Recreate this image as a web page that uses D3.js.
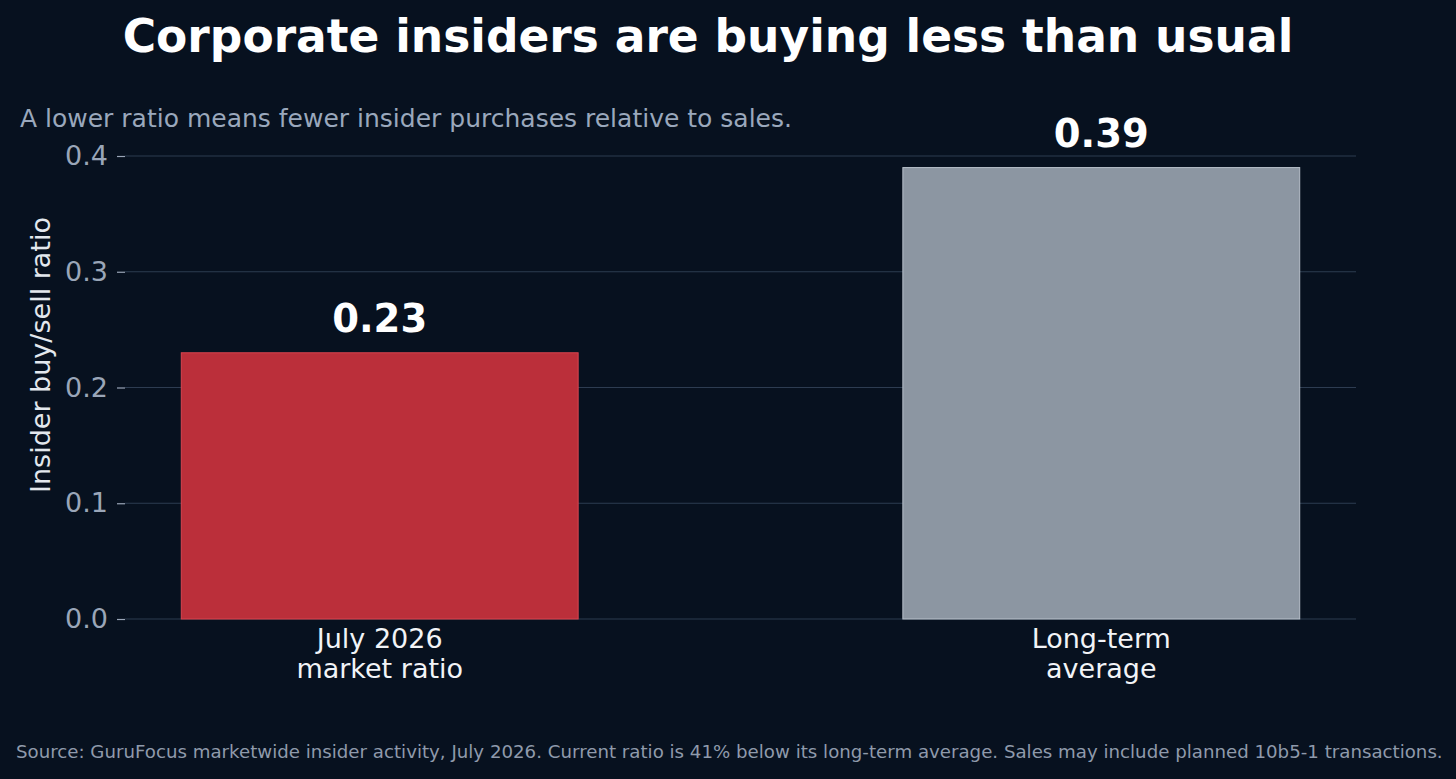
<!DOCTYPE html>
<html>
<head>
<meta charset="utf-8">
<script src="https://cdn.jsdelivr.net/npm/d3@7"></script>
<style>
  html, body { margin: 0; padding: 0; background: #07111f; }
  svg { display: block; font-family: "DejaVu Sans", sans-serif; }
</style>
</head>
<body>
<script>
let W = 1456;
let H = 779;

// data
let categories = [["July 2026", "market ratio"], ["Long-term", "average"]];
let ratios = [0.23, 0.39];
let barColors = ["#bb2f3a", "#8c96a2"];
let edgeColors = ["#d9444f", "#b9c1cb"];
let yTicks = [0.0, 0.1, 0.2, 0.3, 0.4];

let pad = { top: 156, rig: 100, bot: 160, lef: 125 };

let svg = d3.select("body")
  .append("svg")
  .attr("width", W)
  .attr("height", H)
  .attr("viewBox", "0 0 " + W + " " + H);

svg.append("rect")
  .attr("width", W)
  .attr("height", H)
  .attr("fill", "#07111f");

let xScale = d3.scaleBand()
  .domain(d3.range(categories.length))
  .range([pad.lef, W - pad.rig])
  .paddingInner(0.45)
  .paddingOuter(0.078);

let yScale = d3.scaleLinear()
  .domain([0, 0.4])
  .range([H - pad.bot, pad.top]);

// grid lines
svg.append("g")
  .selectAll("line")
  .data(yTicks)
  .enter()
  .append("line")
  .attr("x1", pad.lef)
  .attr("x2", W - pad.rig)
  .attr("y1", d => yScale(d))
  .attr("y2", d => yScale(d))
  .attr("stroke", "#2d3c51")
  .attr("stroke-width", 1);

// y axis
let yAxis = svg.append("g")
  .attr("transform", "translate(" + pad.lef + ", 0)")
  .call(d3.axisLeft(yScale).tickValues(yTicks).tickFormat(d3.format(".1f")).tickSize(8).tickPadding(9));
yAxis.select(".domain").remove();
yAxis.selectAll("line").attr("stroke", "#9aa6b8").attr("stroke-width", 1.2);
yAxis.selectAll("text")
  .attr("fill", "#9aa6b8")
  .attr("font-size", "27px")
  .attr("font-family", "DejaVu Sans");

// bars
svg.selectAll(".bar")
  .data(ratios)
  .enter()
  .append("rect")
  .attr("class", "bar")
  .attr("x", (d, i) => xScale(i))
  .attr("y", d => yScale(d))
  .attr("width", xScale.bandwidth())
  .attr("height", d => yScale(0) - yScale(d))
  .attr("fill", (d, i) => barColors[i])
  .attr("stroke", (d, i) => edgeColors[i])
  .attr("stroke-width", 1);

// value labels
svg.selectAll(".val")
  .data(ratios)
  .enter()
  .append("text")
  .attr("class", "val")
  .text(d => d.toFixed(2))
  .attr("x", (d, i) => xScale(i) + xScale.bandwidth() / 2)
  .attr("y", d => yScale(d) - 21)
  .attr("text-anchor", "middle")
  .attr("font-size", "38.5px")
  .attr("font-weight", "bold")
  .attr("fill", "#ffffff");

// x labels
let xl = svg.selectAll(".xlab")
  .data(categories)
  .enter()
  .append("text")
  .attr("class", "xlab")
  .attr("text-anchor", "middle")
  .attr("font-size", "27px")
  .attr("fill", "#f2f4f7");
xl.selectAll("tspan")
  .data((d, i) => d.map(t => ({ t: t, i: i })))
  .enter()
  .append("tspan")
  .attr("x", d => xScale(d.i) + xScale.bandwidth() / 2)
  .attr("y", (d, j) => H - pad.bot + 29 + j * 30)
  .text(d => d.t);

// y label
svg.append("text")
  .text("Insider buy/sell ratio")
  .attr("transform", "translate(50, 355) rotate(-90)")
  .attr("text-anchor", "middle")
  .attr("font-size", "27px")
  .attr("fill", "#e3e8ee");

// title and notes
svg.append("text")
  .text("Corporate insiders are buying less than usual")
  .attr("x", 708)
  .attr("y", 52)
  .attr("text-anchor", "middle")
  .attr("font-size", "45.5px")
  .attr("font-weight", "bold")
  .attr("fill", "#ffffff");

svg.append("text")
  .text("A lower ratio means fewer insider purchases relative to sales.")
  .attr("x", 20)
  .attr("y", 127)
  .attr("font-size", "25px")
  .attr("fill", "#9aa8bc");

svg.append("text")
  .text("Source: GuruFocus marketwide insider activity, July 2026. Current ratio is 41% below its long-term average. Sales may include planned 10b5-1 transactions.")
  .attr("x", 16)
  .attr("y", 758)
  .attr("font-size", "18.2px")
  .attr("fill", "#8f9aab");
</script>
</body>
</html>
